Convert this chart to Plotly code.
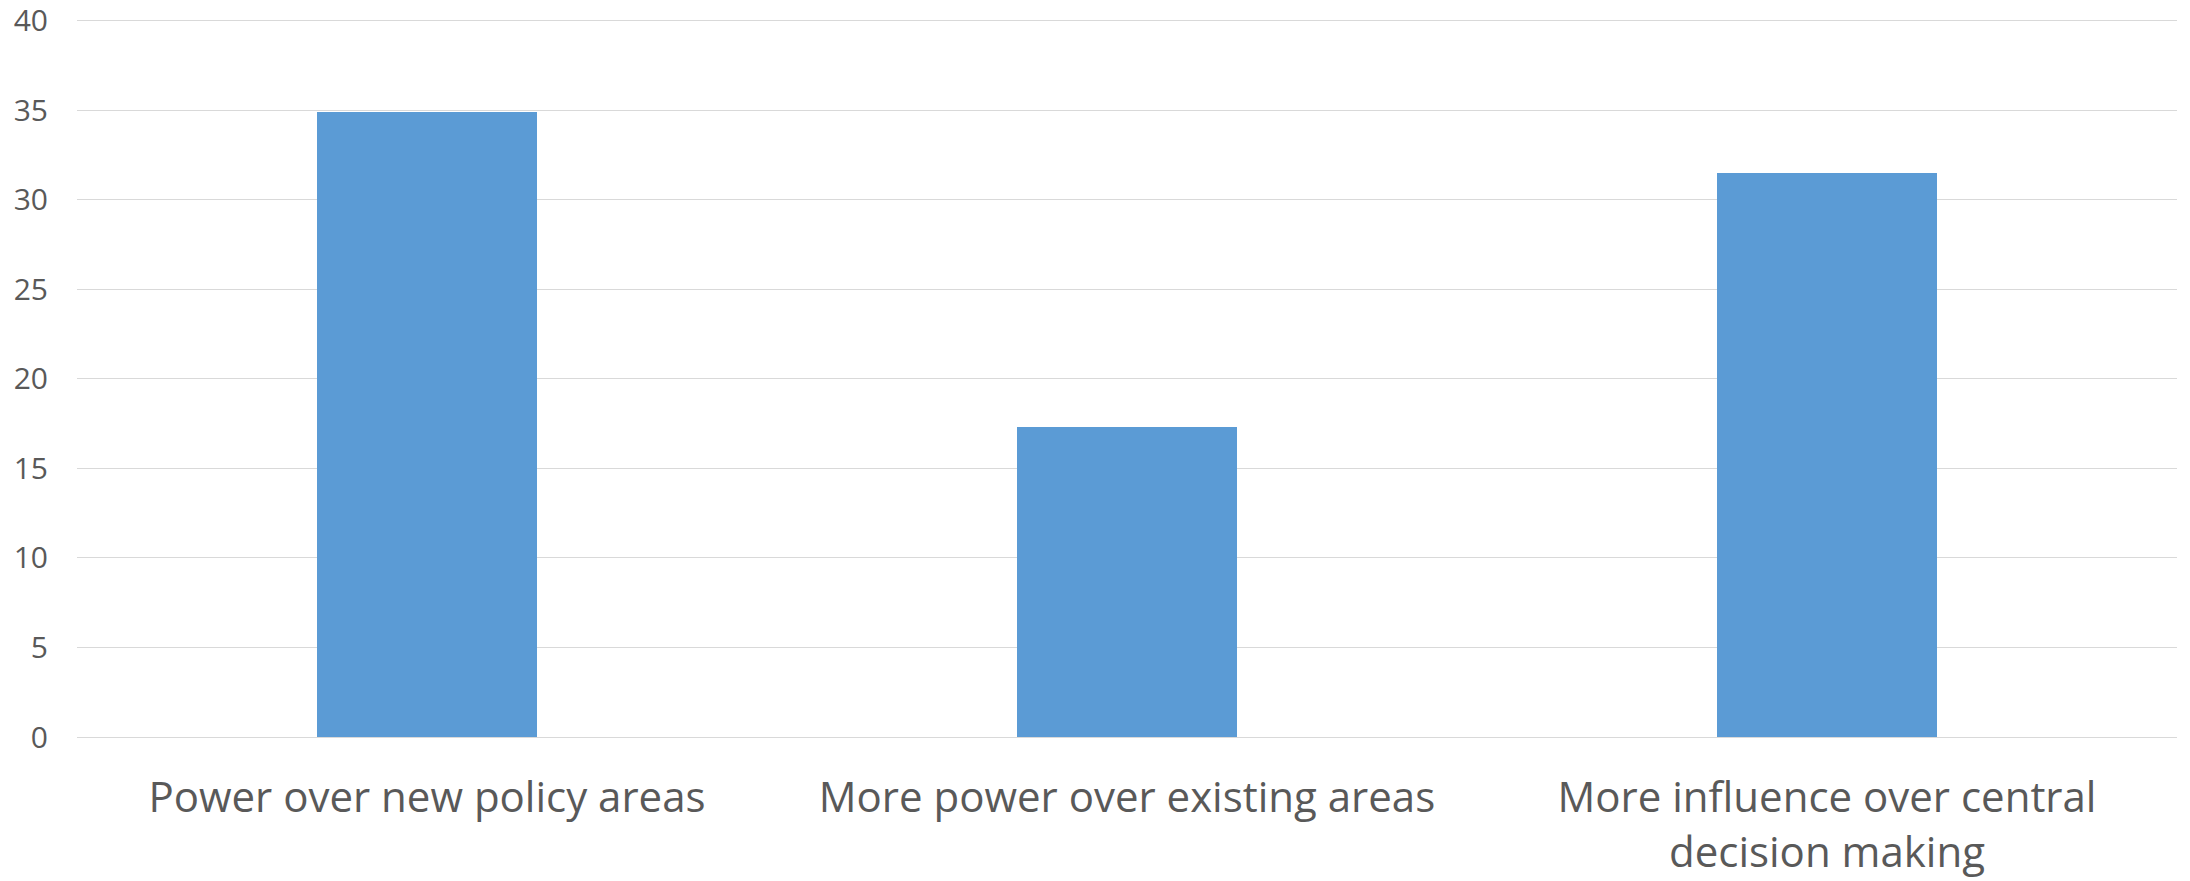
import plotly.graph_objects as go

categories = ["Power over new policy areas", "More power over existing areas",
              "More influence over central<br>decision making"]
values = [34.9, 17.3, 31.5]
y_ticks = [0, 5, 10, 15, 20, 25, 30, 35, 40]

fig = go.Figure(go.Bar(
    x=categories, y=values, width=0.314,
    marker=dict(color="#5B9BD5", line=dict(width=0)),
))

# page body has an 8px default margin, so the figure is 8px smaller
fig.update_layout(
    width=2182, height=873,
    margin=dict(l=69, r=13, t=11, b=144),
    paper_bgcolor="white", plot_bgcolor="white",
    font=dict(family="Open Sans", color="#595959"),
    showlegend=False,
    bargap=0,
)
fig.update_yaxes(
    range=[0, 40.1], tickvals=y_ticks, showgrid=True, gridcolor="#D9D9D9", gridwidth=1,
    zeroline=False, showline=False, tickfont=dict(size=30, color="#595959"),
    ticklabelstandoff=28, automargin=False, ticklabeloverflow="allow",
)
fig.update_xaxes(
    showline=True, linecolor="#D9D9D9", linewidth=1, showgrid=False,
    tickfont=dict(size=42, color="#595959"), ticklabelstandoff=24, automargin=False,
    ticklabeloverflow="allow",
)

fig.write_html("out.html")
